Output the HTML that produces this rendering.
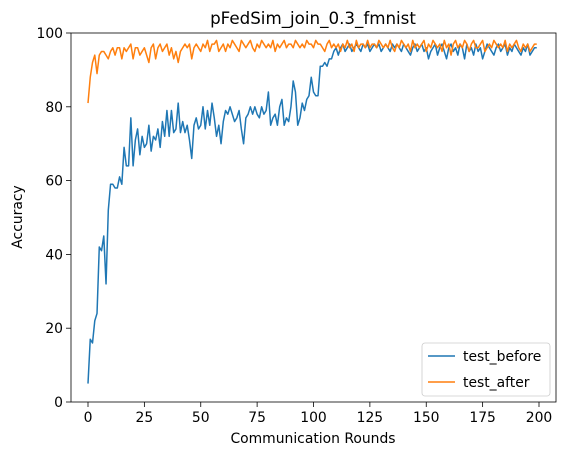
<!DOCTYPE html>
<html><head><meta charset="utf-8"><style>
body{margin:0;background:#fff;font-family:"Liberation Sans","DejaVu Sans",sans-serif}
svg text{font-family:"DejaVu Sans","Liberation Sans",sans-serif;font-size:13.9px;fill:#000}
</style></head><body>
<svg id="chart" width="571" height="455">
<rect x="0" y="0" width="571" height="455" fill="#fff"/>
<text x="313" y="24" text-anchor="middle" style="font-size:16.7px">pFedSim_join_0.3_fmnist</text>
<g id="plot"></g>
<rect x="71" y="33" width="485" height="369" fill="none" stroke="#000" stroke-width="0.8"/>
<text x="313" y="443" text-anchor="middle">Communication Rounds</text>
<text transform="translate(22,217) rotate(-90)" text-anchor="middle">Accuracy</text>
<g>
<rect x="422" y="343" width="128" height="53" rx="3" fill="#fff" stroke="#ccc" stroke-width="0.8"/>
<line x1="428" y1="356" x2="455" y2="356" stroke="#1f77b4" stroke-width="1.5"/>
<text x="463" y="361">test_before</text>
<line x1="428" y1="382" x2="455" y2="382" stroke="#ff7f0e" stroke-width="1.5"/>
<text x="463" y="387">test_after</text>
</g>
</svg>
<script>
const xTicks=[0,25,50,75,100,125,150,175,200];
const yTicks=[0,20,40,60,80,100];
const testBefore=[5,17,16,22,24,42,41,45,32,52,59,59,58,58,61,59,69,64,64,77,64,71,74,67,72,69,70,75,68,72,71,74,69,76,72,79,72,79,73,74,81,73,76,73,75,71,66,75,77,74,75,80,74,79,75,81,77,72,75,70,76,79,78,80,78,76,77,79,74,70,77,78,80,78,80,78,77,80,78,79,84,75,77,78,75,80,82,75,77,76,80,87,84,75,77,81,79,82,83,88,84,83,83,91,91,92,91,93,93,95,96,94,96,97,95,96,97,95,96,97,96,95,97,96,97,95,96,97,96,97,95,96,97,96,95,97,96,97,96,95,97,96,95,94,96,97,95,96,97,95,96,93,95,96,97,94,96,97,95,93,96,97,95,96,94,97,96,93,97,95,96,94,97,95,96,93,95,97,96,95,94,96,97,95,96,97,94,96,95,97,96,95,94,96,95,97,94,95,96,96];
const testAfter=[81,88,92,94,89,94,95,95,94,93,95,96,94,96,96,93,96,95,96,97,93,96,96,94,95,96,94,92,96,97,93,96,97,95,96,97,94,96,93,95,92,95,96,97,96,97,93,96,97,96,95,97,96,98,95,97,97,98,95,96,97,95,97,96,98,97,96,95,98,97,96,97,98,96,95,97,96,98,97,96,97,96,98,95,97,96,97,98,96,97,97,96,98,97,96,97,96,98,97,97,96,98,97,97,96,95,97,98,96,97,96,97,95,97,96,98,96,97,95,98,96,97,97,96,98,96,97,97,96,98,97,96,97,96,98,96,95,97,96,98,97,96,97,95,98,96,97,96,97,98,95,97,96,98,97,96,97,95,98,96,97,94,97,98,96,97,96,98,97,95,97,98,96,96,97,98,95,96,97,96,98,97,96,97,96,98,95,97,96,97,98,96,95,97,96,97,95,96,97,97];
const X=v=>88+v*(539-88)/200;
const Y=v=>402-v*(369/100);
const NS="http://www.w3.org/2000/svg";
const plot=document.getElementById('plot');
xTicks.forEach(t=>{
  const l=document.createElementNS(NS,'line');
  l.setAttribute('x1',X(t));l.setAttribute('x2',X(t));l.setAttribute('y1',402);l.setAttribute('y2',407);l.setAttribute('stroke','#000');l.setAttribute('stroke-width','0.8');
  
  
  plot.appendChild(l);
  const s=document.createElementNS(NS,'text');
  s.setAttribute('x',X(t));s.setAttribute('y',422);s.setAttribute('text-anchor','middle');s.textContent=t;
  
  
  plot.appendChild(s);
});
yTicks.forEach(t=>{
  const l=document.createElementNS(NS,'line');
  l.setAttribute('x1',66);l.setAttribute('x2',71);l.setAttribute('y1',Y(t));l.setAttribute('y2',Y(t));l.setAttribute('stroke','#000');l.setAttribute('stroke-width','0.8');
  
  
  plot.appendChild(l);
  const s=document.createElementNS(NS,'text');
  s.setAttribute('x',63);s.setAttribute('y',Y(t)+5);s.setAttribute('text-anchor','end');s.textContent=t;
  
  
  plot.appendChild(s);
});
function line(data,color,name){
  const p=document.createElementNS(NS,'polyline');
  p.setAttribute('points',data.map((v,i)=>X(i).toFixed(2)+','+Y(v).toFixed(2)).join(' '));
  p.setAttribute('fill','none');p.setAttribute('stroke',color);p.setAttribute('stroke-width','1.5');p.setAttribute('stroke-linejoin','round');
  
  
  plot.appendChild(p);
}
line(testBefore,'#1f77b4','test-before-line');
line(testAfter,'#ff7f0e','test-after-line');
</script>
</body></html>
